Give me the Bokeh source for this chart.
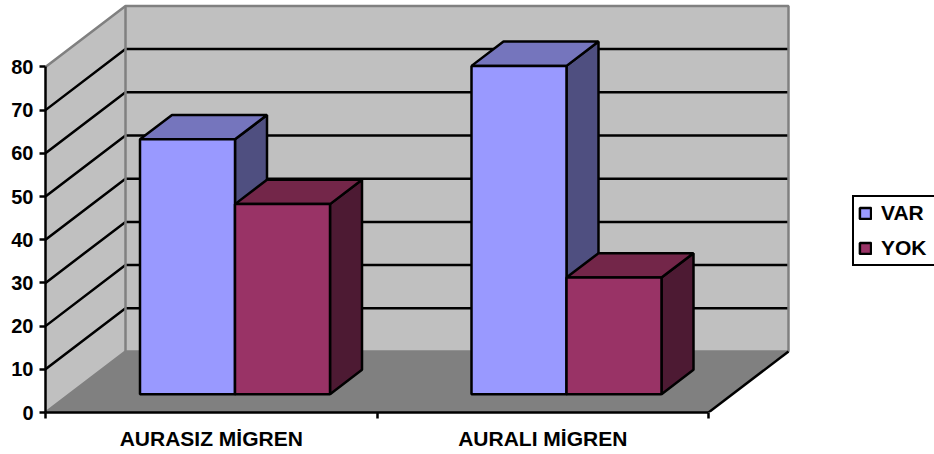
from bokeh.embed import file_html
from bokeh.models import (ColumnDataSource, FixedTicker, Legend, LegendItem, LinearAxis,
                          Range1d)
from bokeh.plotting import figure
from bokeh.resources import INLINE

# Chart data
categories = ["AURASIZ MİGREN", "AURALI MİGREN"]
series_names = ["VAR", "YOK"]
var_values = [59, 76]
yok_values = [44, 27]
value_ticks = [0, 10, 20, 30, 40, 50, 60, 70, 80]

# Face colours of each series: front, top, side
face_colors = {
    "VAR": ("#9999FF", "#7575BD", "#4F4F80"),
    "YOK": ("#993366", "#732649", "#4D1A33"),
}

WIDTH, HEIGHT = 934, 454
LEFT, BOTTOM = 45, 42
PX_PER_CATEGORY = 331.5
PX_PER_VALUE = 4.32
DEPTH_X = 80 / PX_PER_CATEGORY   # oblique shift of the full chart depth, in axis units
DEPTH_Y = 61 / PX_PER_VALUE
BAR_GAP = 70.5 / PX_PER_CATEGORY
BAR_WIDTH = 95 / PX_PER_CATEGORY
BAR_Z0, BAR_Z1 = 0.3, 0.7
TOP_VALUE = value_ticks[-1]
N = len(categories)
STROKE = 2.5


def project(x, v, z):
    """Oblique projection of (category x, value, depth z) on to the plane of the axes."""
    return x + z * DEPTH_X, v + z * DEPTH_Y


def poly(*pts):
    xs, ys = zip(*[project(*pt) for pt in pts])
    return list(xs), list(ys)


p = figure(
    width=WIDTH, height=HEIGHT, output_backend="svg", toolbar_location=None,
    x_range=Range1d(0, (WIDTH - LEFT) / PX_PER_CATEGORY),
    y_range=Range1d(0, (HEIGHT - BOTTOM) / PX_PER_VALUE),
    x_axis_type=None, y_axis_type=None,
    min_border_left=LEFT, min_border_bottom=BOTTOM, min_border_top=0, min_border_right=0,
    outline_line_color=None, border_fill_color="white", background_fill_color="white",
)
p.xgrid.visible = False
p.ygrid.visible = False

# Side wall, back wall and floor
for pts, color in [
    ([(0, 0, 0), (0, 0, 1), (0, TOP_VALUE, 1), (0, TOP_VALUE, 0)], "#C0C0C0"),
    ([(0, 0, 1), (N, 0, 1), (N, TOP_VALUE, 1), (0, TOP_VALUE, 1)], "#C0C0C0"),
    ([(0, 0, 0), (0, 0, 1), (N, 0, 1), (N, 0, 0)], "#808080"),
]:
    xs, ys = poly(*pts)
    p.patch(xs, ys, fill_color=color, line_color=None)

# Gridlines run across the side wall and on along the back wall
inner_ticks = value_ticks[1:-1]
grid = [poly((0, v, 0), (0, v, 1), (N, v, 1)) for v in inner_ticks]
p.multi_line([g[0] for g in grid], [g[1] for g in grid], line_color="black", line_width=STROKE)

# Grey wall edges
edges = [
    poly((0, 0, 0), (0, 0, 1), (N, 0, 1), (N, TOP_VALUE, 1), (0, TOP_VALUE, 1), (0, TOP_VALUE, 0)),
    poly((0, 0, 1), (0, TOP_VALUE, 1)),
]
p.multi_line([e[0] for e in edges], [e[1] for e in edges], line_color="#808080", line_width=STROKE)

# Front edge on the right of the floor
xs, ys = poly((N, 0, 0), (N, 0, 1))
p.line(xs, ys, line_color="black", line_width=STROKE)

# Bars, back to front within each category
front_renderers = {}
for s, (name, vals) in enumerate(zip(series_names, [var_values, yok_values])):
    front, top, side = face_colors[name]
    x0 = [i + BAR_GAP + s * BAR_WIDTH for i in range(N)]
    x1 = [x + BAR_WIDTH for x in x0]

    side_faces = [poly((b, 0, BAR_Z0), (b, 0, BAR_Z1), (b, v, BAR_Z1), (b, v, BAR_Z0))
                  for b, v in zip(x1, vals)]
    top_faces = [poly((a, v, BAR_Z0), (a, v, BAR_Z1), (b, v, BAR_Z1), (b, v, BAR_Z0))
                 for a, b, v in zip(x0, x1, vals)]
    p.patches([f[0] for f in side_faces], [f[1] for f in side_faces],
              fill_color=side, line_color="black", line_width=STROKE)
    p.patches([f[0] for f in top_faces], [f[1] for f in top_faces],
              fill_color=top, line_color="black", line_width=STROKE)

    left, base = project(0, 0, BAR_Z0)
    src = ColumnDataSource(dict(
        left=[x + left for x in x0], right=[x + left for x in x1],
        bottom=[base] * N, top=[v + base for v in vals],
    ))
    front_renderers[name] = p.quad(left="left", right="right", bottom="bottom", top="top",
                                   source=src, fill_color=front, line_color="black",
                                   line_width=STROKE)

# Value axis
y_axis = LinearAxis(
    ticker=FixedTicker(ticks=value_ticks), bounds=(0, TOP_VALUE),
    axis_line_color="black", axis_line_width=STROKE,
    major_tick_line_color="black", major_tick_line_width=STROKE,
    major_tick_out=6, major_tick_in=0, minor_tick_out=0, minor_tick_in=0,
    major_label_text_font="Liberation Sans", major_label_text_font_style="bold",
    major_label_text_font_size="20px", major_label_text_color="black",
    major_label_standoff=6,
)
p.add_layout(y_axis, "left")

# Category axis: labels sit mid-category, ticks mark the category boundaries
x_axis = LinearAxis(
    ticker=FixedTicker(ticks=[i + 0.5 for i in range(N)], minor_ticks=list(range(N + 1))),
    bounds=(0, N),
    major_label_overrides={i + 0.5: c for i, c in enumerate(categories)},
    axis_line_color="black", axis_line_width=STROKE,
    major_tick_line_color=None, major_tick_out=0, major_tick_in=0,
    minor_tick_line_color="black", minor_tick_line_width=STROKE, minor_tick_out=6, minor_tick_in=0,
    major_label_text_font="Liberation Sans", major_label_text_font_style="bold",
    major_label_text_font_size="21px", major_label_text_color="black",
    major_label_standoff=8,
)
p.add_layout(x_axis, "below")

# The box runs on past the right edge of the page
legend = Legend(
    items=[LegendItem(label=n, renderers=[front_renderers[n]]) for n in series_names],
    location=(807, 146),
    orientation="vertical",
    glyph_width=14, glyph_height=14, label_width=70, label_height=20,
    label_text_font="Liberation Sans", label_text_font_style="bold",
    label_text_font_size="21px", label_text_color="black", label_standoff=9,
    spacing=11, padding=4, margin=0,
    border_line_color="black", border_line_width=STROKE, border_line_alpha=1,
    background_fill_color="white", background_fill_alpha=1,
)
p.add_layout(legend, "center")

open("out.html", "w").write(file_html(p, INLINE))
